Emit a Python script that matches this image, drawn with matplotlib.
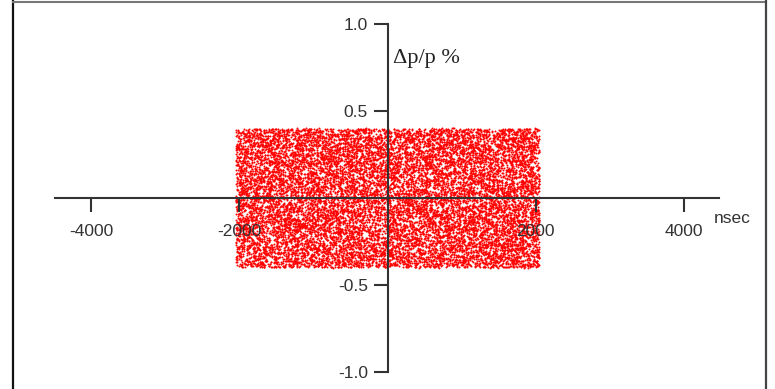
import numpy as np
import matplotlib
matplotlib.use("Agg")
import matplotlib.pyplot as plt
from matplotlib.lines import Line2D

# ---- data (bounds of the uniformly filled region) ----
n_points = 15000
t_min, t_max = -2050.0, 2050.0      # nsec
dp_min, dp_max = -0.40, 0.40        # dp/p %
x_ticks = [-4000, -2000, 2000, 4000]
x_tick_labels = ["-4000", "-2000", "2000", "4000"]
y_ticks = [-1.0, -0.5, 0.5, 1.0]
y_tick_labels = ["-1.0", "-0.5", "0.5", "1.0"]

rng = np.random.default_rng(7)
t = rng.uniform(t_min, t_max, n_points)
dp = rng.uniform(dp_min, dp_max, n_points)

W, H = 775, 389
fig = plt.figure(figsize=(W / 100, H / 100), dpi=100)
ax = fig.add_axes([0, 0, 1, 1])
ax.set_xlim(-5229, 5229)
ax.set_ylim(-1.098, 1.138)
ax.patch.set_visible(False)

ax.scatter(t, dp, s=2.0, c="#ff0000", linewidths=0, zorder=1)

axc = "#333333"
for side in ("top", "right"):
    ax.spines[side].set_visible(False)
ax.spines["left"].set_position(("data", 0))
ax.spines["bottom"].set_position(("data", 0))
ax.spines["left"].set_bounds(-1.0, 1.0)
ax.spines["bottom"].set_bounds(-4490, 4480)
for side in ("left", "bottom"):
    ax.spines[side].set_color(axc)
    ax.spines[side].set_linewidth(1.5)
    ax.spines[side].set_zorder(3)

ax.set_xticks(x_ticks)
ax.set_xticklabels(x_tick_labels)
ax.set_yticks(y_ticks)
ax.set_yticklabels(y_tick_labels)
ax.tick_params(axis="both", direction="out", length=10, width=1.5, color=axc,
               labelcolor="#333333", labelsize=12.5)
ax.tick_params(axis="x", pad=9)
ax.tick_params(axis="y", pad=4)
for lab in ax.get_xticklabels() + ax.get_yticklabels():
    lab.set_family("Liberation Sans")
    lab.set_zorder(4)

ax.text(4400, -0.145, "nsec", family="Liberation Sans", fontsize=12.5,
        color="#333333", ha="left", va="baseline")
ax.text(70, 0.775, "\u0394p/p %", family="Liberation Serif", fontsize=16,
        color="#222222", ha="left", va="baseline")

# outer frame
fig.add_artist(Line2D([12.5 / W, 12.5 / W], [0, 1 - 1 / H], color="#111111", lw=1.6))
fig.add_artist(Line2D([12.5 / W, 765.5 / W], [1 - 1.5 / H, 1 - 1.5 / H], color="#777777", lw=1.5))
fig.add_artist(Line2D([765.5 / W, 765.5 / W], [0, 1 - 1 / H], color="#444444", lw=1.6))

fig.savefig("out.png", dpi=100)
